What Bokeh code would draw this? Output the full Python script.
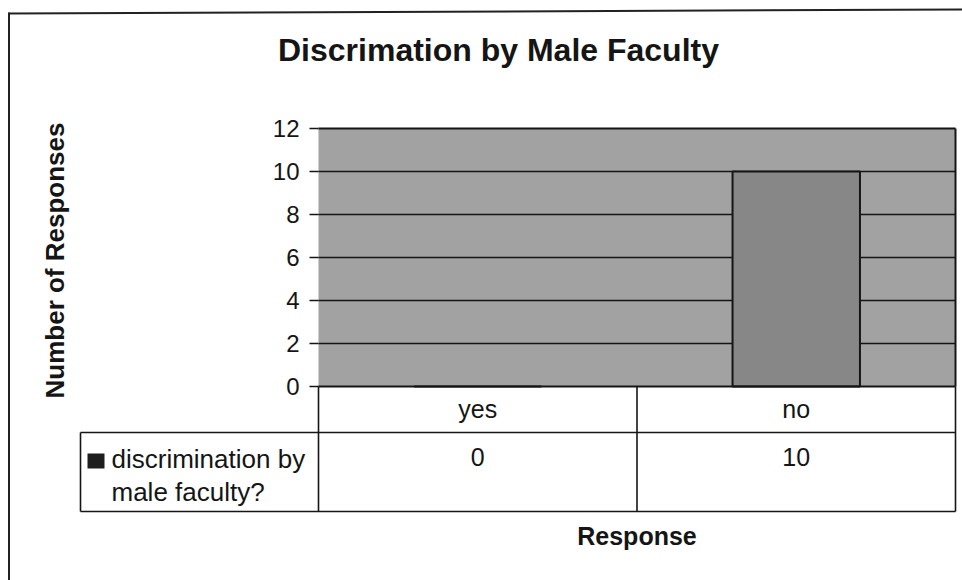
import math
from bokeh.plotting import figure
from bokeh.models import Range1d
from bokeh.core.properties import value
from bokeh.embed import file_html
from bokeh.resources import INLINE

# ---- data ----
chart_title = "Discrimation by Male Faculty"
categories = ["yes", "no"]
responses = [0, 10]
series_lines = ["discrimination by", "male faculty?"]
y_ticks = [0, 2, 4, 6, 8, 10, 12]
y_label = "Number of Responses"
x_label = "Response"

FONT = value("Liberation Sans")
INK = "#151515"
W, H = 962, 580

# plot-area placement on the page (pixels)
PA_L, PA_R, PA_T, PA_B = 318, 955, 128, 386
NCAT = len(categories)
YMAX = y_ticks[-1]
PX = (PA_R - PA_L) / NCAT      # px per category
PY = (PA_B - PA_T) / YMAX      # px per unit


def dx(px):
    """page x pixel -> data x (layout helper)"""
    return (px - PA_L) / PX


def dy(py):
    """page y pixel -> data y (layout helper)"""
    return (PA_B - py) / PY


p = figure(width=W, height=H, x_range=Range1d(dx(0), dx(W)), y_range=Range1d(dy(H), dy(0)),
           x_axis_type=None, y_axis_type=None, output_backend="svg", toolbar_location=None,
           min_border=0)
p.outline_line_color = None
p.grid.visible = False
p.background_fill_color = "white"
p.border_fill_color = "white"

xc = [i + 0.5 for i in range(NCAT)]

# ---- plot area ----
p.quad(left=[0], right=[NCAT], bottom=[0], top=[YMAX], fill_color="#a2a2a2", line_color=None)
inner = y_ticks[1:-1]
p.segment(x0=[0] * len(inner), x1=[NCAT] * len(inner), y0=inner, y1=inner,
          line_color=INK, line_width=1.3)
p.vbar(x=xc, top=responses, width=0.4, fill_color="#878787", line_color=INK, line_width=2)
# frame
p.segment(x0=[0, NCAT, 0], x1=[NCAT, NCAT, NCAT], y0=[YMAX, 0, 0], y1=[YMAX, YMAX, 0],
          line_color=INK, line_width=2)

# ---- y axis ----
p.segment(x0=[dx(309)] * len(y_ticks), x1=[0] * len(y_ticks), y0=y_ticks, y1=y_ticks,
          line_color=INK, line_width=1.5)
p.text(x=[dx(299)] * len(y_ticks), y=y_ticks, text=[str(t) for t in y_ticks],
       text_font=FONT, text_font_size=value("24px"), text_align="right",
       text_baseline="middle", text_color=INK)
p.text(x=[dx(54)], y=[dy(260)], text=[y_label], angle=math.pi / 2,
       text_font=FONT, text_font_size=value("26px"), text_font_style="bold",
       text_align="center", text_baseline="middle", text_color=INK)

# ---- data table ----
row1, row2 = dy(432), dy(511)
left_col = dx(80)
# vertical lines: axis line / category boundaries / right edge
p.segment(x0=list(range(NCAT + 1)), x1=list(range(NCAT + 1)),
          y0=[0] * (NCAT + 1), y1=[row2] * (NCAT + 1), line_color=INK, line_width=1.6)
p.segment(x0=[left_col, left_col, left_col], x1=[NCAT, NCAT, left_col],
          y0=[row1, row2, row1], y1=[row1, row2, row2], line_color=INK, line_width=1.6)
# header: category names
p.text(x=xc, y=[dy(408)] * NCAT, text=categories, text_font=FONT,
       text_font_size=value("25px"), text_align="center", text_baseline="middle",
       text_color=INK)
# values
p.text(x=xc, y=[dy(456)] * NCAT, text=[str(v) for v in responses], text_font=FONT,
       text_font_size=value("25px"), text_align="center", text_baseline="middle",
       text_color=INK)
# legend key + series name
p.quad(left=[dx(87)], right=[dx(104)], top=[dy(453)], bottom=[dy(468)],
       fill_color="#1e1e1e", line_color=None)
p.text(x=[dx(111)] * len(series_lines), y=[dy(458 + 33 * i) for i in range(len(series_lines))],
       text=series_lines, text_font=FONT, text_font_size=value("26px"),
       text_align="left", text_baseline="middle", text_color=INK)

# ---- axis title & chart title ----
p.text(x=[NCAT / 2], y=[dy(535)], text=[x_label], text_font=FONT,
       text_font_size=value("25px"), text_font_style="bold", text_align="center",
       text_baseline="middle", text_color=INK)
p.text(x=[dx(498)], y=[dy(49)], text=[chart_title], text_font=FONT,
       text_font_size=value("32px"), text_font_style="bold", text_align="center",
       text_baseline="middle", text_color=INK)

# ---- chart-area border (left and top edges) ----
p.segment(x0=[dx(8.5), dx(8)], x1=[dx(8.5), dx(962)], y0=[dy(12), dy(13)], y1=[dy(580), dy(9)],
          line_color="#222222", line_width=2)

open("out.html", "w").write(file_html(p, INLINE))
